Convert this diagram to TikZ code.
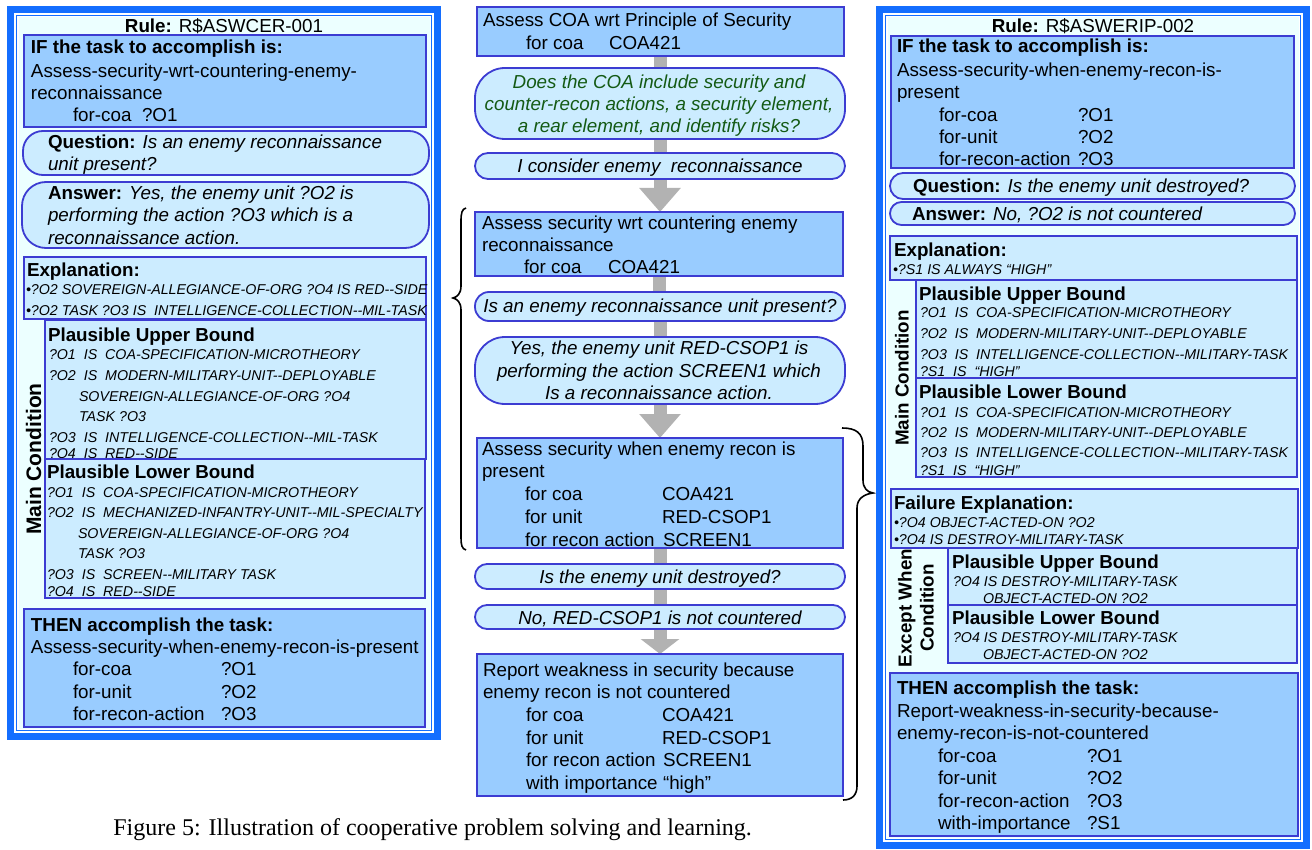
\documentclass[tikz,border=0pt]{standalone}
\usepackage{fontspec}
\setmainfont{Liberation Sans}
\newfontfamily\capfont{Liberation Serif}
\usetikzlibrary{arrows.meta}
\definecolor{frameblue}{RGB}{20,110,255}
\definecolor{panelbg}{RGB}{236,255,255}
\definecolor{taskfill}{RGB}{153,204,255}
\definecolor{boxline}{RGB}{60,60,210}
\definecolor{pillfill}{RGB}{204,236,255}
\definecolor{arrowgray}{RGB}{178,178,178}
\definecolor{qgreen}{RGB}{20,90,20}
\pgfdeclarelayer{bg}
\pgfsetlayers{bg,main}
\newcounter{tn}
\newcommand\T[4][]{\stepcounter{tn}\node[tx,#1] (tn\arabic{tn}) at (#2,#3) {#4};}
\newcommand\mkbox[6][]{\node[inner sep=0pt,outer sep=0pt,#1,minimum width={(#5-#3)*0.5pt},minimum height={(#6-#4)*0.5pt}] (#2) at ({(#3+#5)/2},{(#4+#6)/2}) {};}
\tikzset{
  tx/.style={anchor=base west,inner sep=0pt,outer sep=0pt,font=\fontsize{9.4}{11}\selectfont},
  txc/.style={anchor=base},
  sm/.style={font=\fontsize{7.12}{8}\selectfont\itshape},
  ci/.style={anchor=base,font=\fontsize{9.4}{11}\selectfont\itshape},
  cg/.style={ci,text=qgreen},
  task/.style={rectangle,draw=boxline,fill=taskfill,line width=0.9pt},
  expl/.style={task,fill=pillfill},
  pill/.style={task,fill=pillfill,rounded corners=#1},
  conn/.style={draw=arrowgray,line width=6.5pt},
  bigarrow/.style={conn,-{Triangle[width=20pt,length=12pt]}},
  smallarrow/.style={conn,-{Triangle[width=19pt,length=7.5pt]}},
  rotlab/.style={rotate=90,inner sep=0pt,align=center,font=\fontsize{9.4}{11}\selectfont\bfseries},
  brace/.style={draw=black,line width=0.8pt}
}
\begin{document}
\begin{tikzpicture}[x=0.5pt,y=-0.5pt]
\useasboundingbox (0,0) rectangle (1312,850);
\begin{pgfonlayer}{bg}
\fill[white] (0,0) rectangle (1312,850);
\end{pgfonlayer}

% ---------------- LEFT PANEL ----------------
\mkbox[fill=frameblue]{LF}{7}{6}{441}{740}
\mkbox[fill=white]{LFw}{14}{13}{434}{733}
\mkbox[draw=frameblue,line width=0.8pt]{LFl}{16.5}{15.5}{431.5}{730.5}
\mkbox[fill=panelbg]{LFi}{18.5}{17.5}{429.5}{728.5}

\T[txc]{224}{33}{\textbf{Rule:} R\$ASWCER-001}
\mkbox[task]{LIF}{24}{35}{426}{127}
\T{31}{54}{\textbf{IF the task to accomplish is:}}
\T{31}{78}{Assess-security-wrt-countering-enemy-}
\T{31}{100}{reconnaissance}
\T{73}{122}{for-coa}
\T{142}{122}{?O1}
\mkbox[pill=10pt]{LQ}{23}{131}{429}{175}
\T{48}{149}{\textbf{Question:} \textit{Is an enemy reconnaissance}}
\T{48}{171}{\textit{unit present?}}
\mkbox[pill=12pt]{LA}{22}{182}{429}{248}
\T{48}{200}{\textbf{Answer:} \textit{Yes, the enemy unit ?O2 is}}
\T{48}{222}{\textit{performing the action ?O3 which is a}}
\T{48}{245}{\textit{reconnaissance action.}}
\mkbox[expl]{LE}{24}{257}{426}{319}
\T{27}{277}{\textbf{Explanation:}}
\T[sm]{26}{295}{•?O2 SOVEREIGN-ALLEGIANCE-OF-ORG ?O4 IS RED-{}-SIDE}
\T[sm]{26}{315}{•?O2 TASK ?O3 IS\ \ INTELLIGENCE-COLLECTION-{}-MIL-TASK}
\mkbox[expl]{LPU}{45}{320}{426}{459}
\T{48}{342}{\textbf{Plausible Upper Bound}}
\T[sm]{49}{359}{?O1\ \ IS\ \ COA-SPECIFICATION-MICROTHEORY}
\T[sm]{49}{380}{?O2\ \ IS\ \ MODERN-MILITARY-UNIT-{}-DEPLOYABLE}
\T[sm]{79}{401}{SOVEREIGN-ALLEGIANCE-OF-ORG ?O4}
\T[sm]{79}{421}{TASK ?O3}
\T[sm]{49}{442}{?O3\ \ IS\ \ INTELLIGENCE-COLLECTION-{}-MIL-TASK}
\T[sm]{49}{458}{?O4\ \ IS\ \ RED-{}-SIDE}
\mkbox[expl]{LPL}{45}{459}{425}{598}
\T{47}{478}{\textbf{Plausible Lower Bound}}
\T[sm]{47}{497}{?O1\ \ IS\ \ COA-SPECIFICATION-MICROTHEORY}
\T[sm]{47}{517}{?O2\ \ IS\ \ MECHANIZED-INFANTRY-UNIT-{}-MIL-SPECIALTY}
\T[sm]{78}{538}{SOVEREIGN-ALLEGIANCE-OF-ORG ?O4}
\T[sm]{78}{558}{TASK ?O3}
\T[sm]{47}{579}{?O3\ \ IS\ \ SCREEN-{}-MILITARY TASK}
\T[sm]{47}{596}{?O4\ \ IS\ \ RED-{}-SIDE}
\node[rotlab,font=\fontsize{10.5}{12}\selectfont\bfseries] (LMC) at (33.5,459) {Main Condition};
\mkbox[task]{LTH}{24}{609}{425}{727}
\T{31}{631}{\textbf{THEN accomplish the task:}}
\T{31}{653}{Assess-security-when-enemy-recon-is-present}
\T{73}{675}{for-coa} \T{221}{675}{?O1}
\T{73}{698}{for-unit} \T{221}{698}{?O2}
\T{73}{720}{for-recon-action} \T{221}{720}{?O3}

% ---------------- CENTER COLUMN ----------------
\mkbox[task]{C1}{477}{7}{844}{56}
\T{483}{27}{Assess COA wrt Principle of Security}
\T{526}{50}{for coa} \T{609}{50}{COA421}
\mkbox[pill=15pt]{C2}{475}{68}{845}{139}
\T[cg]{659}{89}{Does the COA include security and}
\T[cg]{659}{111}{counter-recon actions, a security element,}
\T[cg]{659}{133}{a rear element, and identify risks?}
\mkbox[pill=6.5pt]{C3}{475}{153}{845}{179}
\T[ci]{660}{173}{I consider enemy\ \ reconnaissance}
\mkbox[task]{C4}{475}{212}{843}{276}
\T{482}{230}{Assess security wrt countering enemy}
\T{482}{252}{reconnaissance}
\T{524}{274}{for coa} \T{608}{274}{COA421}
\mkbox[pill=7pt]{C5}{475}{292}{845}{321}
\T[ci]{660}{313}{Is an enemy reconnaissance unit present?}
\mkbox[pill=15pt]{C6}{475}{337}{845}{404}
\T[ci]{659}{355}{Yes, the enemy unit RED-CSOP1 is}
\T[ci]{659}{377}{performing the action SCREEN1 which}
\T[ci]{659}{400}{Is a reconnaissance action.}
\mkbox[task]{C7}{477}{438}{843}{548}
\T{482}{455}{Assess security when enemy recon is}
\T{482}{477}{present}
\T{525}{500}{for coa} \T{662}{500}{COA421}
\T{525}{523}{for unit} \T{662}{523}{RED-CSOP1}
\T{525}{546}{for recon action} \T{663}{546}{SCREEN1}
\mkbox[pill=6pt]{C8}{475}{564}{845}{589}
\T[ci]{660}{583}{Is the enemy unit destroyed?}
\mkbox[pill=6pt]{C9}{475}{605}{845}{629}
\T[ci]{660}{624}{No, RED-CSOP1 is not countered}
\mkbox[task]{C10}{477}{654}{843}{796}
\T{483}{676}{Report weakness in security because}
\T{483}{698}{enemy recon is not countered}
\T{526}{721}{for coa} \T{662}{721}{COA421}
\T{526}{744}{for unit} \T{662}{744}{RED-CSOP1}
\T{526}{766}{for recon action} \T{663}{766}{SCREEN1}
\T{526}{789}{with importance} \T{663}{789}{“high”}

\begin{pgfonlayer}{bg}
\draw[conn] (C1.south) -- (C1.south |- C2.north);
\draw[conn] (C2.south) -- (C2.south |- C3.north);
\draw[bigarrow] (C3.south) -- (C3.south |- C4.north);
\draw[conn] (C4.south) -- (C4.south |- C5.north);
\draw[conn] (C5.south) -- (C5.south |- C6.north);
\draw[bigarrow] (C6.south) -- (C6.south |- C7.north);
\draw[conn] (C7.south) -- (C7.south |- C8.north);
\draw[conn] (C8.south) -- (C8.south |- C9.north);
\draw[smallarrow] (C9.south) -- (C9.south |- C10.north);
\end{pgfonlayer}

% braces
\draw[brace] (466,208) .. controls (462,209) and (461,213) .. (461,221) -- (461,286)
  .. controls (461,294) and (457,297) .. (453,298)
  .. controls (457,299) and (461,302) .. (461,310) -- (461,538)
  .. controls (461,545) and (462,549) .. (466,550);
\draw[brace] (842,428) .. controls (856,428) and (863,433) .. (863,446) -- (863,480)
  .. controls (863,488) and (867,492) .. (873,493)
  .. controls (865,494) and (857,498) .. (857,508) -- (857,786)
  .. controls (857,795) and (852,800) .. (843,800);

% ---------------- RIGHT PANEL ----------------
\mkbox[fill=frameblue]{RF0}{876}{6}{1310}{849}
\mkbox[fill=white]{RFw}{883}{13}{1303}{842}
\mkbox[draw=frameblue,line width=0.8pt]{RFl}{885.5}{15.5}{1300.5}{839.5}
\mkbox[fill=panelbg]{RFi}{887.5}{17.5}{1298.5}{837.5}

\T[txc]{1093}{33}{\textbf{Rule:} R\$ASWERIP-002}
\mkbox[task]{RIF}{891}{36}{1294}{168}
\T{897}{53}{\textbf{IF the task to accomplish is:}}
\T{897}{77}{Assess-security-when-enemy-recon-is-}
\T{897}{99}{present}
\T{939}{122}{for-coa} \T{1078}{122}{?O1}
\T{939}{144}{for-unit} \T{1078}{144}{?O2}
\T{939}{166}{for-recon-action} \T{1078}{166}{?O3}
\mkbox[pill=6.5pt]{RQ}{890}{173}{1295}{199}
\T{913}{193}{\textbf{Question:} \textit{Is the enemy unit destroyed?}}
\mkbox[pill=5.75pt]{RA}{890}{202}{1295}{225}
\T{912}{221}{\textbf{Answer:} \textit{No, ?O2 is not countered}}
\mkbox[expl]{RE}{890}{236}{1297}{280}
\T{894}{257}{\textbf{Explanation:}}
\T[sm]{893}{275}{•?S1 IS ALWAYS “HIGH”}
\mkbox[expl]{RPU}{916}{280}{1297}{378}
\T{919}{300}{\textbf{Plausible Upper Bound}}
\T[sm]{920}{318}{?O1\ \ IS\ \ COA-SPECIFICATION-MICROTHEORY}
\T[sm]{920}{338}{?O2\ \ IS\ \ MODERN-MILITARY-UNIT-{}-DEPLOYABLE}
\T[sm]{920}{359}{?O3\ \ IS\ \ INTELLIGENCE-COLLECTION-{}-MILITARY-TASK}
\T[sm]{920}{376}{?S1\ \ IS\ \ “HIGH”}
\mkbox[expl]{RPL}{916}{378}{1297}{477}
\T{919}{398}{\textbf{Plausible Lower Bound}}
\T[sm]{920}{417}{?O1\ \ IS\ \ COA-SPECIFICATION-MICROTHEORY}
\T[sm]{920}{437}{?O2\ \ IS\ \ MODERN-MILITARY-UNIT-{}-DEPLOYABLE}
\T[sm]{920}{457}{?O3\ \ IS\ \ INTELLIGENCE-COLLECTION-{}-MILITARY-TASK}
\T[sm]{920}{475}{?S1\ \ IS\ \ “HIGH”}
\node[rotlab] (RMC) at (902,378) {Main Condition};
\mkbox[expl]{RFE}{891}{489}{1298}{548}
\T{894}{509}{\textbf{Failure Explanation:}}
\T[sm]{894}{527}{•?O4 OBJECT-ACTED-ON ?O2}
\T[sm]{894}{544}{•?O4 IS DESTROY-MILITARY-TASK}
\mkbox[expl]{REU}{948}{548}{1297}{605}
\T{952}{568}{\textbf{Plausible Upper Bound}}
\T[sm]{953}{586}{?O4 IS DESTROY-MILITARY-TASK}
\T[sm]{983}{603}{OBJECT-ACTED-ON ?O2}
\mkbox[expl]{REL}{948}{605}{1297}{663}
\T{952}{624}{\textbf{Plausible Lower Bound}}
\T[sm]{953}{642}{?O4 IS DESTROY-MILITARY-TASK}
\T[sm]{983}{659}{OBJECT-ACTED-ON ?O2}
\node[rotlab] (REC) at (916,608) {Except When\\Condition};
\mkbox[task]{RTH}{890}{673}{1298}{836}
\T{897}{694}{\textbf{THEN accomplish the task:}}
\T{897}{717}{Report-weakness-in-security-because-}
\T{897}{739}{enemy-recon-is-not-countered}
\T{938}{762}{for-coa} \T{1087}{762}{?O1}
\T{938}{784}{for-unit} \T{1087}{784}{?O2}
\T{938}{807}{for-recon-action} \T{1087}{807}{?O3}
\T{938}{829}{with-importance} \T{1087}{829}{?S1}

% caption
\node[anchor=base west,inner sep=0pt,font=\fontsize{12}{14}\selectfont\capfont] (cap) at (113,835) {Figure 5: Illustration of cooperative problem solving and learning.};
\end{tikzpicture}
\end{document}
